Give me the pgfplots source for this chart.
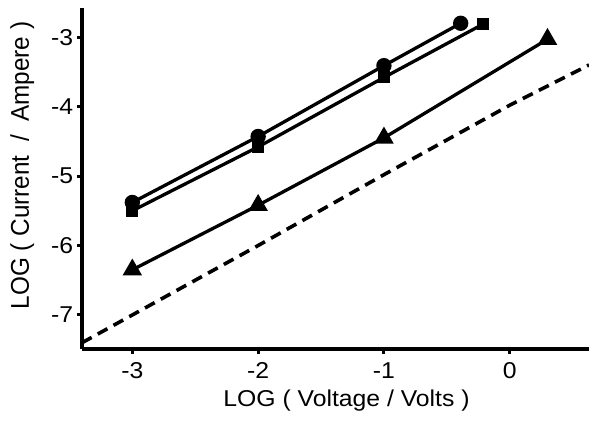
\documentclass[border=0pt]{standalone}
\usepackage{pgfplots}
\pgfplotsset{compat=1.18}
\usepackage{fontspec}
\setmainfont{Liberation Sans}
\begin{document}
\begin{tikzpicture}
\begin{axis}[
  scale only axis,
  width=507bp, height=341bp,
  xmin=-3.4, xmax=0.63,
  ymin=-7.49, ymax=-2.58,
  axis x line=bottom, axis y line=left,
  axis line style={-, line width=3.5bp},
  xtick={-3,-2,-1,0}, ytick={-7,-6,-5,-4,-3},
  tick style={line width=3bp, black},
  tick align=outside,
  major tick length=5bp,
  minor tick num=0,
  /pgf/number format/assume math mode=true,
  tick label style={font=\fontsize{23}{27}\selectfont, xscale=1.08},
  xticklabel style={yshift=-5bp},
  yticklabel style={xshift=0bp},
  label style={font=\fontsize{23}{27}\selectfont},
  xlabel={LOG ( Voltage / Volts )},
  ylabel={LOG ( Current \ / \ Ampere )},
  xlabel style={at={(axis description cs:0.5217,-0.1525)}, anchor=center, xscale=1.08},
  ylabel style={at={(axis description cs:-0.118,0.538)}, anchor=center, rotate=0, xscale=1.06, yscale=1.12},
  clip=false,
]
\addplot[black, line width=3.3bp, mark=*, mark size=6bp] coordinates {(-3,-5.38) (-2,-4.43) (-1,-3.41) (-0.39,-2.8)};
\addplot[black, line width=3.3bp, mark=square*, mark size=4.3bp] coordinates {(-3,-5.5) (-2,-4.58) (-1,-3.58) (-0.21,-2.81)};
\addplot[black, line width=3.3bp, mark=triangle*, mark size=8bp] coordinates {(-3,-6.35) (-2,-5.42) (-1,-4.45) (0.3,-3.03)};
\addplot[black, line width=3.6bp, dash pattern=on 11bp off 7bp] coordinates {(-3.4,-7.4) (-3,-7.0) (-2,-6.0) (-1,-4.98) (0,-3.98) (0.63,-3.4)};
\end{axis}
\pgfresetboundingbox
\path (-82bp,-78bp) rectangle (507bp,349bp);
\end{tikzpicture}
\end{document}
